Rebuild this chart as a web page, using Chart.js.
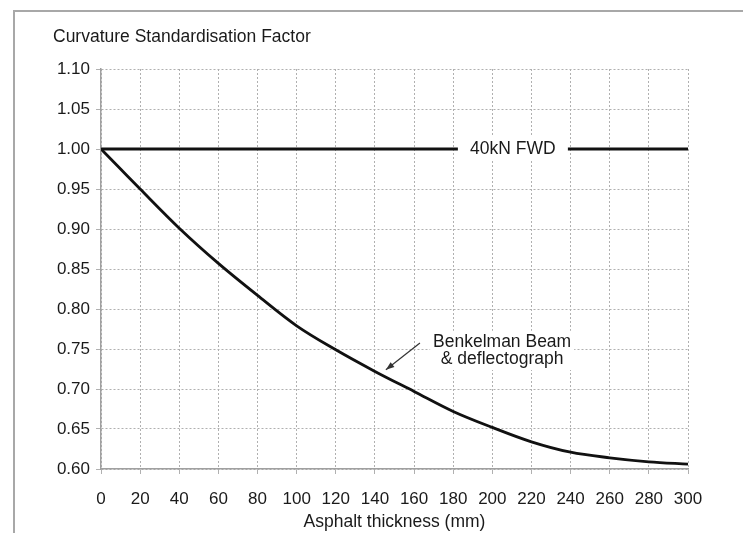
<!DOCTYPE html>
<html>
<head>
<meta charset="utf-8">
<script src="https://cdn.jsdelivr.net/npm/chart.js@4.4.0/dist/chart.umd.min.js"></script>
<style>
  html, body { margin: 0; padding: 0; background: #fff; }
  #wrap { position: relative; width: 743px; height: 533px; }
  #frame { position: absolute; left: 13px; top: 10px; right: 0; bottom: 0;
           border-top: 2px solid #a8a8a8; border-left: 2px solid #a8a8a8; }
  canvas { position: absolute; left: 0; top: 0; }
</style>
</head>
<body>
<div id="wrap">
  <div id="frame"></div>
  <canvas id="csfChart" width="743" height="533"></canvas>
</div>
<script>
// Curvature standardisation factor vs asphalt thickness
const thickness = [0, 10, 20, 40, 60, 80, 100, 120, 140, 160, 180, 200, 220, 240, 260, 280, 300];
const benkelman = [1.000, 0.975, 0.950, 0.901, 0.857, 0.817, 0.779, 0.749, 0.722, 0.697, 0.672, 0.652, 0.634, 0.621, 0.614, 0.609, 0.606];
const fwdThickness = [0, 300];
const fwdFactor = [1.00, 1.00];

const xTicks = [0, 20, 40, 60, 80, 100, 120, 140, 160, 180, 200, 220, 240, 260, 280, 300];
const yTicks = [0.60, 0.65, 0.70, 0.75, 0.80, 0.85, 0.90, 0.95, 1.00, 1.05, 1.10];

const FONT = '"Liberation Sans", Arial, Helvetica, sans-serif';
const TEXT = '#1a1a1a';

function points(xs, ys) {
    return xs.map((x, i) => ({ x: x, y: ys[i] }));
}

// Title, labels and arrow drawn on top of the lines
const notes = {
    id: 'notes',
    afterDatasetsDraw(chart) {
        const c = chart.ctx;
        const xs = chart.scales.x, ys = chart.scales.y;
        c.save();
        c.font = '17.5px ' + FONT;
        c.fillStyle = TEXT;
        c.textBaseline = 'middle';
        c.textAlign = 'left';
        c.fillText('Curvature Standardisation Factor', 53, 37);

        // 40kN FWD label breaking the line
        const fx = xs.getPixelForValue(210.5), fy = ys.getPixelForValue(1.00);
        c.fillStyle = '#fff';
        c.fillRect(fx - 55, fy - 12, 110, 24);
        c.fillStyle = TEXT;
        c.textAlign = 'center';
        c.fillText('40kN FWD', fx, fy);

        // Benkelman label
        const bx = xs.getPixelForValue(205);
        const by1 = ys.getPixelForValue(0.759), by2 = ys.getPixelForValue(0.7375);
        c.fillStyle = '#fff';
        c.fillRect(bx - 72, by1 - 11, 144, by2 - by1 + 22);
        c.fillStyle = TEXT;
        c.fillText('Benkelman Beam', bx, by1);
        c.fillText('& deflectograph', bx, by2);

        // arrow
        const ax1 = xs.getPixelForValue(163), ay1 = ys.getPixelForValue(0.7575);
        const ax2 = xs.getPixelForValue(145.6), ay2 = ys.getPixelForValue(0.724);
        c.strokeStyle = '#333';
        c.lineWidth = 1.2;
        c.beginPath();
        c.moveTo(ax1, ay1);
        c.lineTo(ax2, ay2);
        c.stroke();
        const ang = Math.atan2(ay2 - ay1, ax2 - ax1);
        c.fillStyle = '#333';
        c.beginPath();
        c.moveTo(ax2, ay2);
        c.lineTo(ax2 - 9 * Math.cos(ang - 0.35), ay2 - 9 * Math.sin(ang - 0.35));
        c.lineTo(ax2 - 9 * Math.cos(ang + 0.35), ay2 - 9 * Math.sin(ang + 0.35));
        c.closePath();
        c.fill();
        c.restore();
    }
};

const ctx = document.getElementById('csfChart').getContext('2d');
const csfChart = new Chart(ctx, {
    type: 'scatter',
    data: {
        datasets: [{
            label: 'Benkelman Beam & deflectograph',
            data: points(thickness, benkelman),
            showLine: true,
            borderColor: '#111',
            borderWidth: 2.8,
            pointRadius: 0,
            cubicInterpolationMode: 'monotone'
        }, {
            label: '40kN FWD',
            data: points(fwdThickness, fwdFactor),
            showLine: true,
            borderColor: '#111',
            borderWidth: 3,
            pointRadius: 0
        }]
    },
    options: {
        responsive: false,
        animation: false,
        layout: { padding: { left: 0, right: 55, top: 69, bottom: 0 } },
        plugins: {
            legend: { display: false },
            tooltip: { enabled: false }
        },
        scales: {
            x: {
                type: 'linear',
                min: 0,
                max: 300,
                afterBuildTicks: (s) => { s.ticks = xTicks.map(v => ({ value: v })); },
                afterFit: (s) => { s.height = 64; },
                grid: { color: '#b0b0b0', tickLength: 5, tickColor: '#b0b0b0' },
                border: { color: '#a0a0a0', width: 1.5, dash: [2, 2] },
                ticks: { color: TEXT, font: { size: 17, family: FONT }, padding: 15, maxRotation: 0 },
                title: { display: true, text: 'Asphalt thickness (mm)', color: TEXT,
                         font: { size: 17.5, family: FONT }, padding: { top: 0, bottom: 0 } }
            },
            y: {
                min: 0.60,
                max: 1.10,
                afterBuildTicks: (s) => { s.ticks = yTicks.map(v => ({ value: v })); },
                afterFit: (s) => { s.width = 101; },
                grid: { color: '#b0b0b0', tickLength: 5, tickColor: '#b0b0b0' },
                border: { color: '#a0a0a0', width: 1.5, dash: [2, 2] },
                ticks: { color: TEXT, font: { size: 17, family: FONT }, padding: 6,
                         callback: (v) => v.toFixed(2) }
            }
        }
    },
    plugins: [notes]
});
</script>
</body>
</html>
